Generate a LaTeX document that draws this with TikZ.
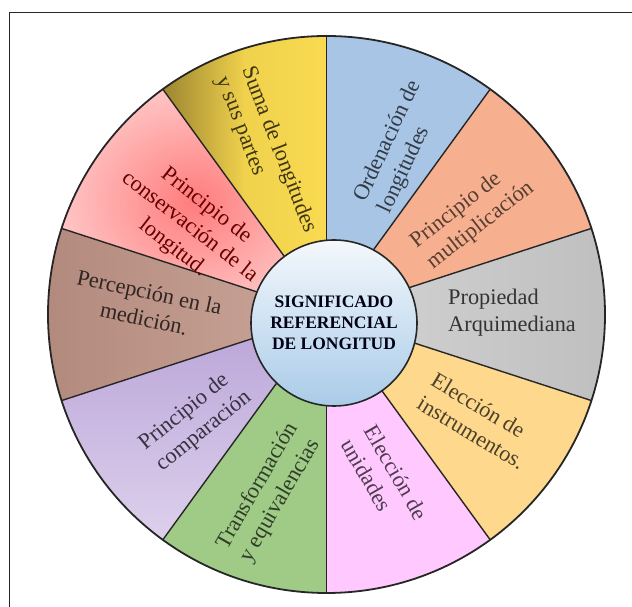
\documentclass[tikz,border=0pt]{standalone}
\usepackage{fontspec}
\setmainfont{Liberation Serif}
\begin{document}
\begin{tikzpicture}[x=1pt,y=1pt,
  spoke/.style={draw=black!85, line width=1.4pt},
  lbl/.style={font=\fontsize{22.3}{27}\selectfont, inner sep=0pt, align=left},
  lblc/.style={lbl, align=center},
]
\useasboundingbox (0,0) rectangle (632,607);
\definecolor{yelA}{HTML}{9C8530}
\definecolor{yelB}{HTML}{F9DA50}
\definecolor{bluS}{HTML}{A8C5E6}
\definecolor{oraS}{HTML}{F6B08F}
\definecolor{grayS}{HTML}{C9C9C9}
\definecolor{peachS}{HTML}{FED88C}
\definecolor{pinkS}{HTML}{FFC8FF}
\definecolor{greenS}{HTML}{9FCB87}
\definecolor{purA}{HTML}{B9A4D8}
\definecolor{purB}{HTML}{DDD0EC}
\definecolor{brnS}{HTML}{C29688}
\definecolor{redA}{HTML}{FF7C7C}
\definecolor{redB}{HTML}{FFC4C4}
\definecolor{hubA}{HTML}{F4F8FC}
\definecolor{hubB}{HTML}{A9CBE8}
% frame
\draw[line width=1.6pt, black!85] (9.5,-5) -- (9.5,594.5) -- (640,594.5);
\coordinate (C) at (326.5,292.5);
% sectors
\shade[left color=yelA, right color=yelB, middle color=yelB!90!yelA] (C) -- +(126:278.5) arc[start angle=126,end angle=90,radius=278.5] -- cycle;
\fill[bluS] (C) -- +(90:278.5) arc[start angle=90,end angle=54,radius=278.5] -- cycle;
\fill[oraS] (C) -- +(54:278.5) arc[start angle=54,end angle=18,radius=278.5] -- cycle;
\shade[left color=grayS!80!white, right color=grayS!95!black] (C) -- +(18:278.5) arc[start angle=18,end angle=-18,radius=278.5] -- cycle;
\fill[peachS] (C) -- +(-18:278.5) arc[start angle=-18,end angle=-54,radius=278.5] -- cycle;
\fill[pinkS] (C) -- +(-54:278.5) arc[start angle=-54,end angle=-90,radius=278.5] -- cycle;
\fill[greenS] (C) -- +(-90:278.5) arc[start angle=-90,end angle=-126,radius=278.5] -- cycle;
\shade[top color=purA, bottom color=purB] (C) -- +(234:278.5) arc[start angle=234,end angle=198,radius=278.5] -- cycle;
\shade[left color=brnS!92!black, right color=brnS!85!white] (C) -- +(198:278.5) arc[start angle=198,end angle=162,radius=278.5] -- cycle;
\shade[inner color=redA, outer color=redB] (C) -- +(162:278.5) arc[start angle=162,end angle=126,radius=278.5] -- cycle;
% spokes
\foreach \a in {18,54,90,126,162,198,234,270,306,342}
  \draw[spoke] (C) -- +(\a:278.5);
\draw[black!85, line width=1.8pt] (C) circle[radius=278.5];
% hub
\node[circle, minimum size=166pt, inner sep=0pt, draw=black!85, line width=1.6pt,
  top color=hubA, bottom color=hubB, text=black!85!blue!60!black,
  font=\bfseries\fontsize{17.5}{21}\selectfont, align=center] (hub) at (334,284)
  {SIGNIFICADO\\REFERENCIAL\\DE LONGITUD};
% labels
\node[lbl, rotate=-69, text=yelA!40!black] (suma) at (266,452.4) {Suma de longitudes\\y sus partes};
\node[lbl, rotate=65, text=bluS!30!black] (orden) at (400.3,459.8) {Ordenación de\\longitudes};
\node[lbl, rotate=38, text=oraS!35!black] (mult) at (472.3,392) {Principio de\\multiplicación};
\node[lbl, rotate=0, text=black!80] (arq) at (512,294.5) {Propiedad\\Arquimediana};
\node[lbl, rotate=-31, text=peachS!30!black] (instr) at (478.3,186) {Elección de\\instrumentos.};
\node[lbl, rotate=-60, text=pinkS!30!black] (unid) at (384.7,127.8) {Elección de\\unidades};
\node[lbl, rotate=60, text=greenS!30!black] (transf) at (269.4,114.2) {Transformación\\y equivalencias};
\node[lbl, rotate=39, text=purA!30!black] (comp) at (195.3,186.3) {Principio de\\comparación};
\node[lblc, rotate=-12, text=brnS!25!black] (perc) at (146.7,301.6) {Percepción en la\\medición.};
\node[lblc, rotate=-38, text=red!40!black] (cons) at (189.5,380) {Principio de\\conservación de la\\longitud.};
\end{tikzpicture}
\end{document}
